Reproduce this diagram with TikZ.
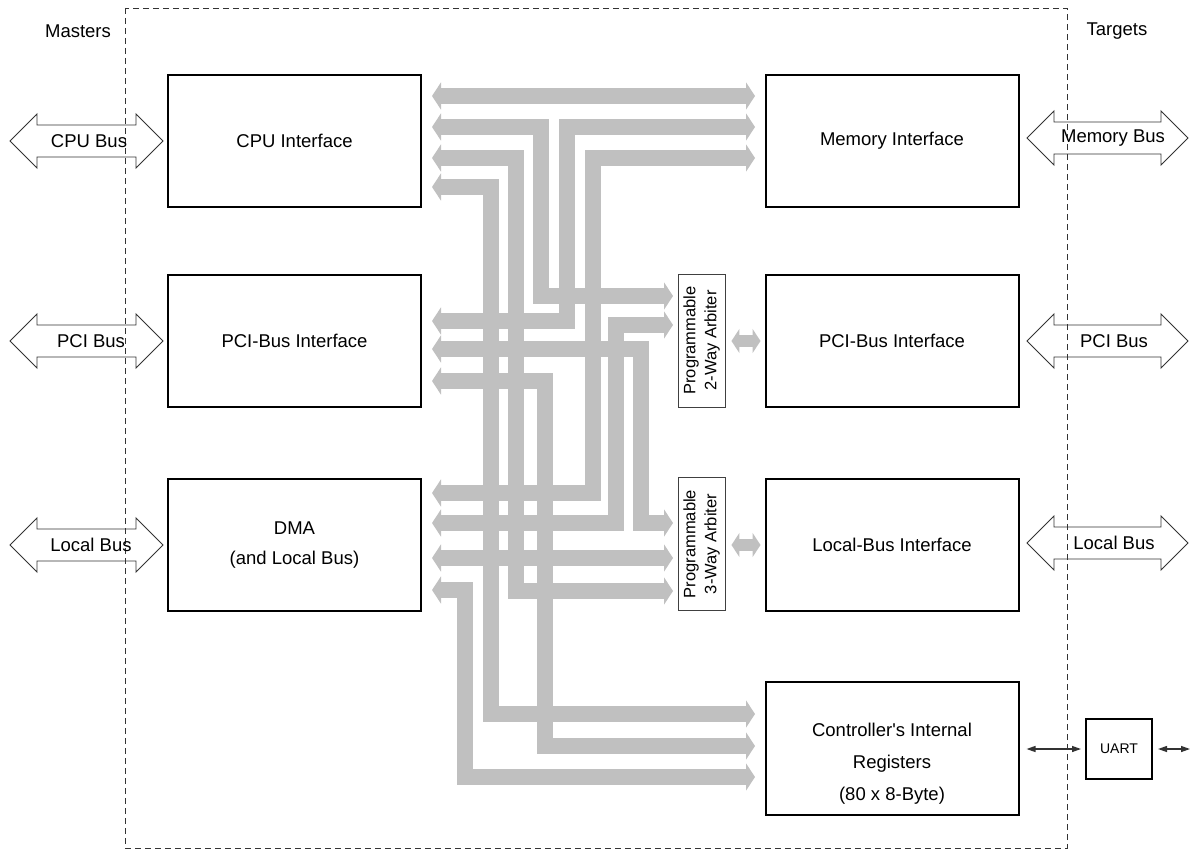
\documentclass[tikz,border=0pt]{standalone}
\usepackage{fontspec}
\setmainfont{Liberation Sans}
\usetikzlibrary{arrows.meta}
\definecolor{busgray}{HTML}{C0C0C0}
\definecolor{linegray}{HTML}{333333}
\newcommand\OpenBus[3]{%
  \draw[openbus] (#1,#3) -- ++(27,-27) -- ++(0,11) -- ++(#2-54,0) -- ++(0,-11) -- ++(27,27)
     -- ++(-27,27) -- ++(0,-11) -- ++(54-#2,0) -- ++(0,11) -- cycle;}
\begin{document}
\begin{tikzpicture}[x=1pt,y=-1pt,
  blockbox/.style={draw=black, line width=2pt, minimum width=253pt, minimum height=132pt,
     inner sep=0pt, font=\fontsize{18.5}{30}\selectfont, align=center},
  arbbox/.style={draw=black!75, line width=0.9pt, rotate=90, minimum width=133pt, minimum height=47pt,
     inner sep=0pt, font=\fontsize{16.5}{21}\selectfont, align=center},
  gbus/.style={line width=16.5pt, draw=busgray, line join=miter,
     {Triangle[length=9pt,width=27pt]}-{Triangle[length=9pt,width=27pt]}},
  sbus/.style={line width=12pt, draw=busgray,
     {Triangle[length=8pt,width=24pt]}-{Triangle[length=8pt,width=24pt]}},
  openbus/.style={draw=linegray, line width=0.9pt, fill=white, line join=miter},
  buslabel/.style={font=\fontsize{18.5}{22}\selectfont, inner sep=0pt},
  thinarrow/.style={draw=linegray, line width=1.3pt,
     {Triangle[length=9pt,width=6pt]}-{Triangle[length=9pt,width=6pt]}},
  titletext/.style={font=\fontsize{18.5}{22}\selectfont, inner sep=0pt}
]
\useasboundingbox (0,0) rectangle (1190,851);

% open bus arrows
\OpenBus{10}{153}{141}
\OpenBus{10}{153}{341}
\OpenBus{10}{153}{545}
\OpenBus{1027}{161}{138}
\OpenBus{1027}{161}{341}
\OpenBus{1027}{161}{543}

% dashed boundary
\draw[black!80, line width=0.9pt, dash pattern=on 6pt off 4pt] (125,8) rectangle (1067,848);
\node[titletext] (masters) at (78,31) {Masters};
\node[titletext] (targets) at (1117,31) {Targets};

% bus labels
\node[buslabel] (cpubus) at (89,141) {CPU Bus};
\node[buslabel] (pcibusl) at (91,341) {PCI Bus};
\node[buslabel] (localbusl) at (91,545) {Local Bus};
\node[buslabel] (membus) at (1113,138) {Memory Bus};
\node[buslabel] (pcibusr) at (1114,341) {PCI Bus};
\node[buslabel] (localbusr) at (1114,543) {Local Bus};

% blocks
\node[blockbox] (cpu) at (294.5,141) {CPU Interface};
\node[blockbox] (pcim) at (294.5,341) {PCI-Bus Interface};
\node[blockbox] (dma) at (294.5,545) {DMA\\(and Local Bus)};
\node[blockbox] (mem) at (892,141) {Memory Interface};
\node[blockbox] (pcit) at (892,341) {PCI-Bus Interface};
\node[blockbox] (loc) at (892,545) {Local-Bus Interface};
\node[blockbox, minimum height=133pt] (regs) at (892,748.5) {};
\node[font=\fontsize{18.5}{32}\selectfont, align=center, inner sep=0pt] (regtext) at (892,764)
   {Controller\textquotesingle s Internal\\Registers\\(80 x 8-Byte)};
\node[arbbox] (arb2) at (701.5,340.5) {Programmable\\2-Way Arbiter};
\node[arbbox] (arb3) at (701.5,544) {Programmable\\3-Way Arbiter};
\node[draw=black, line width=2pt, minimum width=66pt, minimum height=60pt, inner sep=0pt,
   font=\fontsize{14}{16}\selectfont] (uart) at (1119,749) {UART};

% port coordinates
\coordinate (cpuA) at (432,96);  \coordinate (cpuB) at (432,127);
\coordinate (cpuC) at (432,158); \coordinate (cpuD) at (432,187);
\coordinate (memA) at (755,96);  \coordinate (memB) at (755,127); \coordinate (memC) at (755,158);
\coordinate (pciA) at (432,321); \coordinate (pciB) at (432,349); \coordinate (pciC) at (432,381);
\coordinate (arbTwoA) at (673,296); \coordinate (arbTwoB) at (673,325);
\coordinate (dmaA) at (432,493); \coordinate (dmaB) at (432,523);
\coordinate (dmaC) at (432,558); \coordinate (dmaD) at (432,590);
\coordinate (arbThreeA) at (673,523); \coordinate (arbThreeB) at (673,558); \coordinate (arbThreeC) at (673,591);
\coordinate (regA) at (755,714); \coordinate (regB) at (755,746); \coordinate (regC) at (755,777);

% gray internal buses
\draw[gbus] (cpuA) -- (memA);
\draw[gbus] (cpuB) -| (541,296) -- (arbTwoA);
\draw[gbus] (cpuC) -| (516,591) -- (arbThreeC);
\draw[gbus] (cpuD) -| (491,714) -- (regA);
\draw[gbus] (pciA) -| (567,127) -- (memB);
\draw[gbus] (dmaA) -| (593,158) -- (memC);
\draw[gbus] (pciB) -| (641,523) -- (arbThreeA);
\draw[gbus] (pciC) -| (545,746) -- (regB);
\draw[gbus] (dmaB) -| (616,325) -- (arbTwoB);
\draw[gbus] (dmaC) -- (arbThreeB);
\draw[gbus] (dmaD) -| (465,777) -- (regC);

% arbiter to target
\draw[sbus] ([xshift=6pt]arb2.south |- pcit.west) -- ([xshift=-4pt]pcit.west);
\draw[sbus] ([xshift=6pt]arb3.south |- loc.west) -- ([xshift=-4pt]loc.west);

% UART links
\coordinate (uartout) at (1190,749);
\draw[thinarrow, shorten <=7pt, shorten >=4pt] (regs.east |- uart.west) -- (uart.west);
\draw[thinarrow, shorten <=5pt] (uart.east) -- (uartout);
\end{tikzpicture}
\end{document}
